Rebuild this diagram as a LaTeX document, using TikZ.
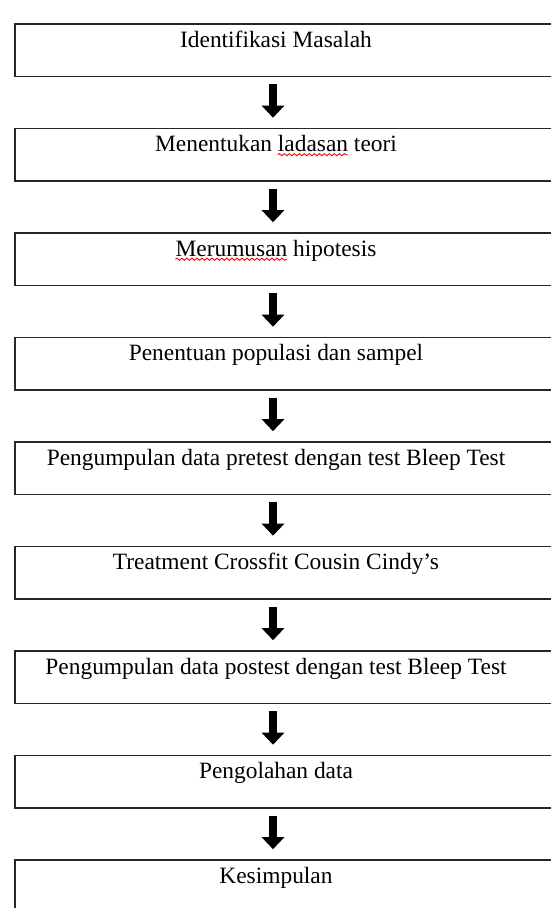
\documentclass[tikz,border=0pt]{standalone}
\usepackage{fontspec}
\setmainfont{Liberation Serif}
\usepackage{tikz}
\usetikzlibrary{positioning, arrows.meta, decorations.pathmorphing}

\newcommand\txtfont{\fontsize{23.4}{27}\selectfont}
\newlength\skipA
\newlength\wordA
\newlength\wordB

\begin{document}
% widths for the red spell-check waves
\settowidth\skipA{\txtfont Menentukan }
\settowidth\wordA{\txtfont ladasan}
\settowidth\wordB{\txtfont Merumusan}
\begin{tikzpicture}[
    x=1pt, y=1pt,
    node distance=50.4pt,
    stepbox/.style={rectangle, draw=black!85, line width=1.6pt,
                minimum width=550pt, minimum height=52.5pt, inner sep=0pt},
    txt/.style={anchor=base, inner sep=0pt, font=\txtfont},
    arr/.style={-{Triangle[width=22pt, length=12pt]}, line width=8pt, draw=black},
    squig/.style={draw=red, line width=0.9pt,
                decorate, decoration={snake, segment length=5pt, amplitude=1.1pt}}
]
\useasboundingbox (0,0) rectangle (551,-908);
\node[stepbox] (b1) at (290,-50.25) {};
\node[stepbox, below=of b1] (b2) {};
\node[stepbox, below=of b2] (b3) {};
\node[stepbox, below=of b3] (b4) {};
\node[stepbox, below=of b4] (b5) {};
\node[stepbox, below=of b5] (b6) {};
\node[stepbox, below=of b6] (b7) {};
\node[stepbox, below=of b7] (b8) {};
\node[stepbox, below=of b8] (b9) {};

\node[txt] (t1) at ([xshift=-14pt, yshift=-24pt]b1.north) {Identifikasi Masalah};
\node[txt] (t2) at ([xshift=-14pt, yshift=-24pt]b2.north) {Menentukan ladasan teori};
\node[txt] (t3) at ([xshift=-14pt, yshift=-24pt]b3.north) {Merumusan hipotesis};
\node[txt] (t4) at ([xshift=-14pt, yshift=-24pt]b4.north) {Penentuan populasi dan sampel};
\node[txt] (t5) at ([xshift=-14pt, yshift=-24pt]b5.north) {Pengumpulan data pretest dengan test Bleep Test};
\node[txt] (t6) at ([xshift=-14pt, yshift=-24pt]b6.north) {Treatment Crossfit Cousin Cindy’s};
\node[txt] (t7) at ([xshift=-14pt, yshift=-24pt]b7.north) {Pengumpulan data postest dengan test Bleep Test};
\node[txt] (t8) at ([xshift=-14pt, yshift=-24pt]b8.north) {Pengolahan data};
\node[txt] (t9) at ([xshift=-14pt, yshift=-24pt]b9.north) {Kesimpulan};

\draw[squig] ([xshift=\skipA, yshift=-3pt]t2.base west) -- ++(\wordA,0);
\draw[squig] ([yshift=-3pt]t3.base west) -- ++(\wordB,0);

\draw[arr] ([xshift=-17pt, yshift=-7pt]b1.south) -- ([xshift=-17pt, yshift=10pt]b2.north);
\draw[arr] ([xshift=-17pt, yshift=-7pt]b2.south) -- ([xshift=-17pt, yshift=10pt]b3.north);
\draw[arr] ([xshift=-17pt, yshift=-7pt]b3.south) -- ([xshift=-17pt, yshift=10pt]b4.north);
\draw[arr] ([xshift=-17pt, yshift=-7pt]b4.south) -- ([xshift=-17pt, yshift=10pt]b5.north);
\draw[arr] ([xshift=-17pt, yshift=-7pt]b5.south) -- ([xshift=-17pt, yshift=10pt]b6.north);
\draw[arr] ([xshift=-17pt, yshift=-7pt]b6.south) -- ([xshift=-17pt, yshift=10pt]b7.north);
\draw[arr] ([xshift=-17pt, yshift=-7pt]b7.south) -- ([xshift=-17pt, yshift=10pt]b8.north);
\draw[arr] ([xshift=-17pt, yshift=-7pt]b8.south) -- ([xshift=-17pt, yshift=10pt]b9.north);
\end{tikzpicture}
\end{document}
